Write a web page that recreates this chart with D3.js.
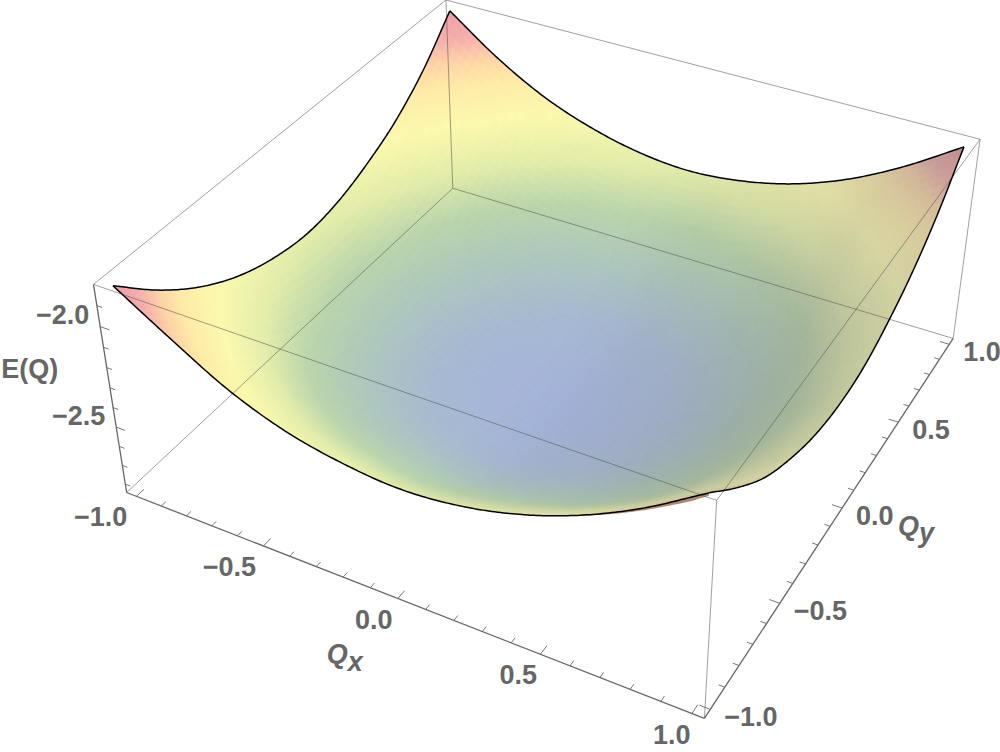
<!DOCTYPE html>
<html><head><meta charset="utf-8">
<style>html,body{margin:0;background:#fff}svg{display:block}text{font-family:"Liberation Sans",Arial,sans-serif;font-weight:bold;font-size:27px;fill:#666}</style>
</head><body>
<script src="https://cdn.jsdelivr.net/npm/d3@7"></script>
<script>
// ---- data ----
const qValues = [-1,-0.8,-0.6,-0.4,-0.2,0,0.2,0.4,0.6,0.8,1];
const eAtQyM10 = [-1.821,-1.986,-2.139,-2.243,-2.300,-2.324,-2.301,-2.239,-2.139,-2.001,-1.826];
const eAtQyM08 = [-1.999,-2.155,-2.305,-2.408,-2.466,-2.490,-2.466,-2.408,-2.305,-2.155,-1.993];
const eAtQyM06 = [-2.141,-2.305,-2.455,-2.558,-2.616,-2.640,-2.616,-2.558,-2.455,-2.305,-2.136];
const eAtQyM04 = [-2.243,-2.408,-2.558,-2.661,-2.719,-2.743,-2.719,-2.661,-2.558,-2.408,-2.231];
const eAtQyM02 = [-2.304,-2.466,-2.616,-2.719,-2.777,-2.801,-2.777,-2.719,-2.616,-2.466,-2.295];
const eAtQy00  = [-2.329,-2.490,-2.640,-2.743,-2.801,-2.825,-2.801,-2.743,-2.640,-2.490,-2.319];
const eAtQyP02 = [-2.305,-2.466,-2.616,-2.719,-2.777,-2.801,-2.777,-2.719,-2.616,-2.466,-2.302];
const eAtQyP04 = [-2.241,-2.408,-2.558,-2.661,-2.719,-2.743,-2.719,-2.661,-2.558,-2.408,-2.238];
const eAtQyP06 = [-2.148,-2.305,-2.455,-2.558,-2.616,-2.640,-2.616,-2.558,-2.455,-2.305,-2.143];
const eAtQyP08 = [-2.010,-2.155,-2.305,-2.408,-2.466,-2.490,-2.466,-2.408,-2.305,-2.155,-2.006];
const eAtQyP10 = [-1.821,-2.003,-2.145,-2.241,-2.301,-2.323,-2.299,-2.239,-2.139,-1.998,-1.825];
const energy = [eAtQyM10,eAtQyM08,eAtQyM06,eAtQyM04,eAtQyM02,eAtQy00,eAtQyP02,eAtQyP04,eAtQyP06,eAtQyP08,eAtQyP10];

const qRange = [-1.04,1.04];
const eRange = [-2.845,-1.80];
const qTicks = [-1,-0.5,0,0.5,1];
const qMinorTicks = [-0.9,-0.8,-0.7,-0.6,-0.4,-0.3,-0.2,-0.1,0.1,0.2,0.3,0.4,0.6,0.7,0.8,0.9];
const eTicks = [-2,-2.5];
const eMinorTicks = [-1.9,-2.1,-2.2,-2.3,-2.4,-2.6,-2.7,-2.8];
const rampStops  = [-2.825,-2.73,-2.61,-2.47,-2.34,-2.20,-2.08,-2.00,-1.92,-1.82];
const rampColors = ["#a4b3da","#a6b8d0","#acc6bc","#b9d4aa","#e2eca9","#fbf9ac","#feeba6","#fdd4a5","#f5aeaa","#ee9ba3"];
const foldQ = [0.55,0.7,0.85,0.95,1];
const foldDepth = [0,0.006,0.012,0.018,0.012];

// ---- scales ----
const W=1000,H=752;
const xs=d3.scaleLinear().domain(qRange).range([0,1]);
const ys=d3.scaleLinear().domain(qRange).range([0,1]);
const zs=d3.scaleLinear().domain(eRange).range([0,1]);
const ramp=d3.scaleLinear().domain(rampStops).range(rampColors).interpolate(d3.interpolateRgb).clamp(true);
const foldAt=d3.scaleLinear().domain(foldQ).range(foldDepth).clamp(true);

// ---- camera calibrated on the eight box corners ----
const cameraFit=[[0,0,1,93.5,284],[0,0,0,126.7,492.7],[1,0,0,704.3,718.3],[1,0,1,716.7,500.7],[1,1,1,980,139.3],[1,1,0,953.3,338.3],[0,1,1,446,0],[0,1,0,452.7,188.3]];
function solve(A,b){const n=b.length;A=A.map((r,i)=>[...r,b[i]]);for(let i=0;i<n;i++){let m=i;for(let k=i+1;k<n;k++)if(Math.abs(A[k][i])>Math.abs(A[m][i]))m=k;[A[i],A[m]]=[A[m],A[i]];for(let k=0;k<n;k++)if(k!==i){const f=A[k][i]/A[i][i];for(let j=i;j<=n;j++)A[k][j]-=f*A[i][j];}}return A.map((r,i)=>r[n]/r[i]);}
const rowsA=[],rowsB=[];
cameraFit.forEach(([x,y,z,u,v])=>{rowsA.push([x,y,z,1,0,0,0,0,-u*x,-u*y,-u*z]);rowsB.push(u);rowsA.push([0,0,0,0,x,y,z,1,-v*x,-v*y,-v*z]);rowsB.push(v);});
const idx=d3.range(11);
const cam=solve(idx.map(i=>idx.map(j=>d3.sum(rowsA,r=>r[i]*r[j]))),idx.map(i=>d3.sum(rowsA,(r,k)=>r[i]*rowsB[k])));
function project(qx,qy,e){const x=xs(qx),y=ys(qy),z=zs(e);const w=cam[8]*x+cam[9]*y+cam[10]*z+1;return[(cam[0]*x+cam[1]*y+cam[2]*z+cam[3])/w,(cam[4]*x+cam[5]*y+cam[6]*z+cam[7])/w,w];}

// ---- smooth reading of the grid for drawing ----
function cr(p0,p1,p2,p3,t){return 0.5*((2*p1)+(-p0+p2)*t+(2*p0-5*p1+4*p2-p3)*t*t+(-p0+3*p1-3*p2+p3)*t*t*t);}
function rowAt(row,u){const i=Math.max(0,Math.min(9,Math.floor(u)));const t=u-i;const a=i>0?row[i-1]:2*row[0]-row[1];const d=i<9?row[i+2]:2*row[10]-row[9];return cr(a,row[i],row[i+1],d,t);}
function surf(qx,qy){const u=(qx+1)/0.2,v=(qy+1)/0.2;return rowAt(energy.map(r=>rowAt(r,u)),v);}
const xy=p=>p.slice(0,2);

const svg=d3.select("body").append("svg").attr("width",W).attr("height",H).attr("viewBox",`0 0 ${W} ${H}`);
const lineGen=d3.line();

// ---- outline of the surface ----
const fine=d3.range(0,201).map(i=>-1+i/100);
const edgeFront=fine.map(q=>[q,-1]),edgeRight=fine.map(q=>[1,q]),edgeBack=fine.map(q=>[-q,1]),edgeLeft=fine.map(q=>[-1,-q]);
const onSurf=p=>xy(project(p[0],p[1],surf(p[0],p[1])));
const defs=svg.append("defs");
defs.append("clipPath").attr("id","surfClip").append("path")
  .attr("d",lineGen([...edgeFront,...edgeRight,...edgeBack,...edgeLeft].map(onSurf))+"Z");
const blur=defs.append("filter").attr("id","soft").attr("x","-2%").attr("y","-2%").attr("width","104%").attr("height","104%");
blur.append("feGaussianBlur").attr("stdDeviation",1.7);

// ---- surface ----
const M=1.03,N=72,step=2*M/N,cells=[];
for(let j=0;j<N;j++)for(let i=0;i<N;i++){
  const x0=-M+i*step,x1=x0+step,y0=-M+j*step,y1=y0+step;
  const pts=[[x0,y0],[x1,y0],[x1,y1],[x0,y1]].map(d=>project(d[0],d[1],surf(d[0],d[1])));
  const cx=(x0+x1)/2,cy=(y0+y1)/2,e=surf(cx,cy);
  const dzdx=(surf(x1,cy)-surf(x0,cy))/step;
  const lit=dzdx>0?0.98-0.14*dzdx:Math.min(1,0.98-0.10*dzdx);
  const c=d3.rgb(ramp(e));
  const grey=(c.r+c.g+c.b)/3, s=dzdx>0?Math.min(0.35,0.3*dzdx):0;
  const mix=v=>(v*(1-s)+grey*s)*lit;
  cells.push({pts,fill:d3.rgb(mix(c.r),mix(c.g),mix(c.b)).formatHex(),depth:d3.mean(pts,p=>p[2])});
}
cells.sort((a,b)=>d3.descending(a.depth,b.depth));
svg.append("g").attr("clip-path","url(#surfClip)").append("g").attr("filter","url(#soft)")
  .selectAll("path").data(cells).join("path")
  .attr("d",d=>lineGen(d.pts.map(xy))+"Z")
  .attr("fill",d=>d.fill).attr("stroke",d=>d.fill).attr("stroke-width",0.5);

// ---- underside seen along the front edge near the far corner ----
const foldQs=fine.filter(q=>q>=foldQ[0]);
svg.append("path").attr("fill","#a98a70")
  .attr("d",lineGen([...foldQs.map(q=>onSurf([q,-1])),...foldQs.slice().reverse().map(q=>xy(project(q,-1,surf(q,-1)-foldAt(q))))])+"Z");

// ---- box ----
const [lo,hi]=qRange,[eb,et]=eRange;
const boxEdges=[[[lo,lo,et],[hi,lo,et]],[[hi,lo,et],[hi,hi,et]],[[hi,hi,et],[lo,hi,et]],[[lo,hi,et],[lo,lo,et]],
 [[lo,hi,eb],[hi,hi,eb]],[[lo,hi,eb],[lo,lo,eb]],[[lo,hi,eb],[lo,hi,et]],[[hi,hi,eb],[hi,hi,et]],[[hi,lo,eb],[hi,lo,et]]];
svg.append("g").selectAll("path").data(boxEdges).join("path")
  .attr("d",d=>lineGen(d.map(p=>xy(project(...p)))))
  .attr("fill","none").attr("stroke","#555").attr("stroke-width",0.7).attr("stroke-opacity",0.8);

svg.append("g").selectAll("path").data([edgeFront,edgeRight,edgeBack,edgeLeft]).join("path")
  .attr("d",d=>lineGen(d.map(onSurf)))
  .attr("fill","none").attr("stroke","#000").attr("stroke-width",1.5).attr("stroke-linejoin","round");

// ---- axes ----
const axisEdges=[[[lo,lo,eb],[hi,lo,eb]],[[hi,lo,eb],[hi,hi,eb]],[[lo,lo,eb],[lo,lo,et]]];
svg.append("g").selectAll("path").data(axisEdges).join("path")
  .attr("d",d=>lineGen(d.map(p=>xy(project(...p)))))
  .attr("fill","none").attr("stroke","#666").attr("stroke-width",1.3);
const tickSegs=[];
qTicks.forEach(q=>{tickSegs.push([[q,lo,eb],[q,lo+0.04,eb]]);tickSegs.push([[hi,q,eb],[hi-0.035,q,eb]]);});
qMinorTicks.forEach(q=>{tickSegs.push([[q,lo,eb],[q,lo+0.024,eb]]);tickSegs.push([[hi,q,eb],[hi-0.02,q,eb]]);});
eTicks.forEach(e=>tickSegs.push([[lo,lo,e],[lo+0.035,lo,e]]));
eMinorTicks.forEach(e=>tickSegs.push([[lo,lo,e],[lo+0.02,lo,e]]));
svg.append("g").selectAll("path").data(tickSegs).join("path")
  .attr("d",d=>lineGen(d.map(p=>xy(project(...p)))))
  .attr("fill","none").attr("stroke","#666").attr("stroke-width",0.9);

// ---- labels ----
const fmt=v=>(v<0?"\u2212":"")+Math.abs(v).toFixed(1);
svg.append("g").selectAll("text").data(qTicks).join("text")
  .attr("x",q=>project(q,lo,eb)[0]-5.3+4*q).attr("y",q=>project(q,lo,eb)[1]+21)
  .attr("text-anchor","end").attr("dominant-baseline","central").text(fmt);
svg.append("g").selectAll("text").data(qTicks).join("text")
  .attr("x",q=>project(hi,q,eb)[0]+14).attr("y",q=>project(hi,q,eb)[1]+8)
  .attr("text-anchor","start").attr("dominant-baseline","central").text(fmt);
svg.append("g").selectAll("text").data(eTicks).join("text")
  .attr("x",e=>project(lo,lo,e)[0]-11).attr("y",e=>project(lo,lo,e)[1]-11.5)
  .attr("text-anchor","end").attr("dominant-baseline","central").text(fmt);
const pz=project(lo,lo,-2.25);
svg.append("text").attr("x",pz[0]-50).attr("y",pz[1]-9).attr("text-anchor","end").attr("dominant-baseline","central").text("E(Q)");
function subLabel(px,py,sub,subDx,subDy){const t=svg.append("text").attr("x",px).attr("y",py).style("font-style","italic");t.append("tspan").text("Q");t.append("tspan").attr("dx",subDx).attr("dy",subDy).text(sub);}
const px0=project(0,lo,eb),py0=project(hi,0,eb);
subLabel(px0[0]-71,px0[1]+64,"x",0,8);
subLabel(py0[0]+56,py0[1]+27,"y",0,7);
</script>
</body></html>
